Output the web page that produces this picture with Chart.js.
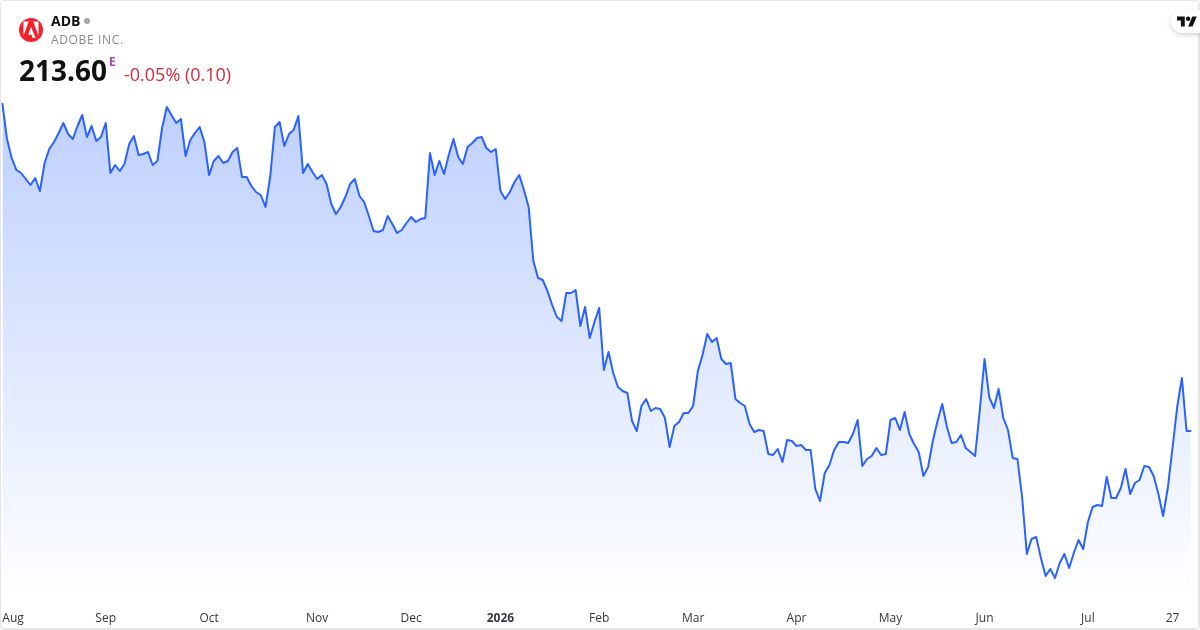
<!DOCTYPE html>
<html>
<head>
<meta charset="utf-8">
<title>ADB</title>
<script src="https://cdn.jsdelivr.net/npm/chart.js@4"></script>
<style>
  html, body { margin: 0; padding: 0; background: #fff; }
  #wrap { position: relative; width: 1200px; height: 630px; overflow: hidden; font-family: "Open Sans", sans-serif; }
  #myChart { position: absolute; left: 0; top: 0; }
  #frame { position: absolute; inset: 0; border: 1px solid #e6e6e6; border-width: 1px 2px 2px 1px; border-radius: 5px; box-sizing: border-box; pointer-events: none; }
  .t { position: absolute; white-space: nowrap; line-height: 1; }
  #logo { position: absolute; left: 19px; top: 18px; width: 24px; height: 24px; }
  #sym { left: 51px; top: 14px; font-size: 14px; font-weight: 700; color: #111; }
  #dot { position: absolute; left: 84px; top: 18px; width: 6px; height: 6px; border-radius: 50%; background: #a8a8a8; }
  #name { left: 51px; top: 34px; font-size: 12px; letter-spacing: .65px; color: #8a8a8a; }
  #price { left: 19px; top: 56px; font-size: 28px; font-weight: 700; color: #111; }
  #sess { left: 109px; top: 56px; font-size: 12px; font-weight: 700; color: #ab47bc; }
  #chg { left: 124px; top: 65px; font-size: 18px; color: #d6293e; }
  #badge { position: absolute; left: 1171px; top: 10px; width: 40px; height: 23px; border-radius: 12px; background: #fff; box-shadow: 0 2px 5px rgba(0,0,0,.18); }
  #tv { position: absolute; left: 6px; top: 5px; width: 20px; height: 13px; }
</style>
</head>
<body>
<div id="wrap">
  <canvas id="myChart" width="1200" height="630"></canvas>
  <div id="frame"></div>
  <svg id="logo" viewBox="0 0 24 24">
    <circle cx="12" cy="12" r="12" fill="#f4202c"/>
    <path d="M4.5 3.5h5.2L4.5 18z M14.3 3.5h5.2V18z M12 9l4.6 11h-2.9l-1.3-3.3H9.2z" fill="#fff"/>
  </svg>
  <div class="t" id="sym">ADB</div>
  <div id="dot"></div>
  <div class="t" id="name">ADOBE INC.</div>
  <div class="t" id="price">213.60</div>
  <div class="t" id="sess">E</div>
  <div class="t" id="chg">-0.05% (0.10)</div>
  <div id="badge">
    <svg id="tv" viewBox="0 2 36 22"><path d="M14 22H7V11H0V4h14v18zM28 22h-8l7.5-18h8L28 22z" fill="#111"/><circle cx="20" cy="8" r="4" fill="#111"/></svg>
  </div>
</div>
<script>
// daily closes
const prices = [
  295.6,286.6,281.85,278.85,278.1,276.6,275.1,276.85,273.6,280.6,284.1,285.85,288.1,290.6,287.85,286.6,
  289.85,292.6,287.1,289.85,286.1,287.1,290.6,278.1,280.1,278.6,280.35,285.35,287.35,282.6,282.85,283.35,
  280.1,281.1,289.35,294.6,292.6,290.6,291.6,282.35,286.35,288.1,289.6,285.85,277.6,281.1,282.35,280.6,
  281.1,283.35,284.35,277.1,277.1,274.85,273.35,272.6,269.6,277.1,289.6,290.85,284.85,287.85,288.85,292.35,
  278.1,280.35,278.35,276.6,277.6,275.35,270.35,267.85,269.6,272.1,275.35,276.6,272.35,270.85,267.35,263.6,
  263.35,263.85,267.35,265.35,263.1,263.85,265.6,267.1,265.85,266.6,266.85,283.1,277.6,281.1,277.85,282.6,
  286.6,282.1,280.35,284.6,285.6,286.85,287.1,284.35,283.35,284.1,273.6,271.6,273.35,275.85,277.6,273.85,
  269.6,256.1,251.85,251.35,248.6,245.1,242.1,241.1,248.1,248.1,248.85,239.85,244.6,236.85,240.85,244.35,
  228.85,233.35,228.1,224.6,223.6,223.1,216.1,213.6,219.85,221.6,218.6,219.35,219.1,216.85,209.6,214.85,
  215.85,218.1,218.1,219.85,228.6,232.6,237.85,235.85,236.85,231.6,230.35,230.6,221.6,220.6,219.85,215.35,
  213.35,213.85,213.6,207.85,207.6,209.1,205.85,211.35,211.1,209.85,210.1,208.85,208.85,199.1,196.1,203.1,
  205.1,208.85,210.85,210.85,210.6,212.85,216.35,204.85,206.6,207.35,209.35,207.6,207.85,216.35,216.85,213.85,
  218.35,212.85,210.35,208.35,202.35,204.6,211.1,216.1,220.35,214.6,210.6,210.85,212.6,209.35,208.35,207.35,
  218.85,231.6,222.1,219.35,224.1,216.85,213.85,206.85,206.6,197.1,182.85,186.6,187.1,181.85,177.35,179.1,
  176.85,180.6,182.85,179.35,183.1,186.35,184.1,190.85,194.6,195.1,194.85,202.1,196.85,196.85,199.35,204.1,
  197.85,200.6,201.35,204.85,204.6,202.35,197.85,192.35,199.35,209.35,219.6,226.85,213.6,213.6
]
const tickIndexes = [0, 22, 44, 67, 87, 106, 127, 147, 169, 189, 209, 231, 249]
const tickLabels = ['Aug', 'Sep', 'Oct', 'Nov', 'Dec', '2026', 'Feb', 'Mar', 'Apr', 'May', 'Jun', 'Jul', '27']
const yMin = 171.35
const yMax = 321.35

const ctx = document.getElementById('myChart').getContext('2d')

const areaFill = ctx.createLinearGradient(0, 103, 0, 600)
areaFill.addColorStop(0, 'rgba(41, 98, 255, 0.3)')
areaFill.addColorStop(1, 'rgba(41, 98, 255, 0)')

const myChart = new Chart(ctx, {
    type: 'line',
    data: {
        labels: prices.map((p, i) => i),
        datasets: [{
            data: prices,
            borderColor: '#2962ff',
            borderWidth: 2,
            borderJoinStyle: 'round',
            backgroundColor: areaFill,
            fill: 'start',
            pointRadius: 0,
            tension: 0
        }]
    },
    options: {
        responsive: false,
        animation: false,
        layout: { padding: { left: 2.3, right: 8.7, top: 0, bottom: 0 } },
        plugins: { legend: { display: false }, tooltip: { enabled: false } },
        scales: {
            x: {
                offset: false,
                grid: { display: false },
                border: { display: false },
                afterFit: scale => {
                    scale.height = 30
                    scale.paddingLeft = 0
                    scale.paddingRight = 0
                },
                ticks: {
                    autoSkip: false,
                    maxRotation: 0,
                    align: 'inner',
                    padding: 3,
                    color: '#333740',
                    font: c => ({
                        family: '"Open Sans"',
                        size: 12,
                        weight: c.tick && c.tick.label === '2026' ? '700' : '400'
                    }),
                    callback: (v, i) => {
                        const n = tickIndexes.indexOf(i)
                        return n < 0 ? '' : tickLabels[n]
                    }
                }
            },
            y: { display: false, min: yMin, max: yMax }
        }
    }
})
</script>
</body>
</html>
